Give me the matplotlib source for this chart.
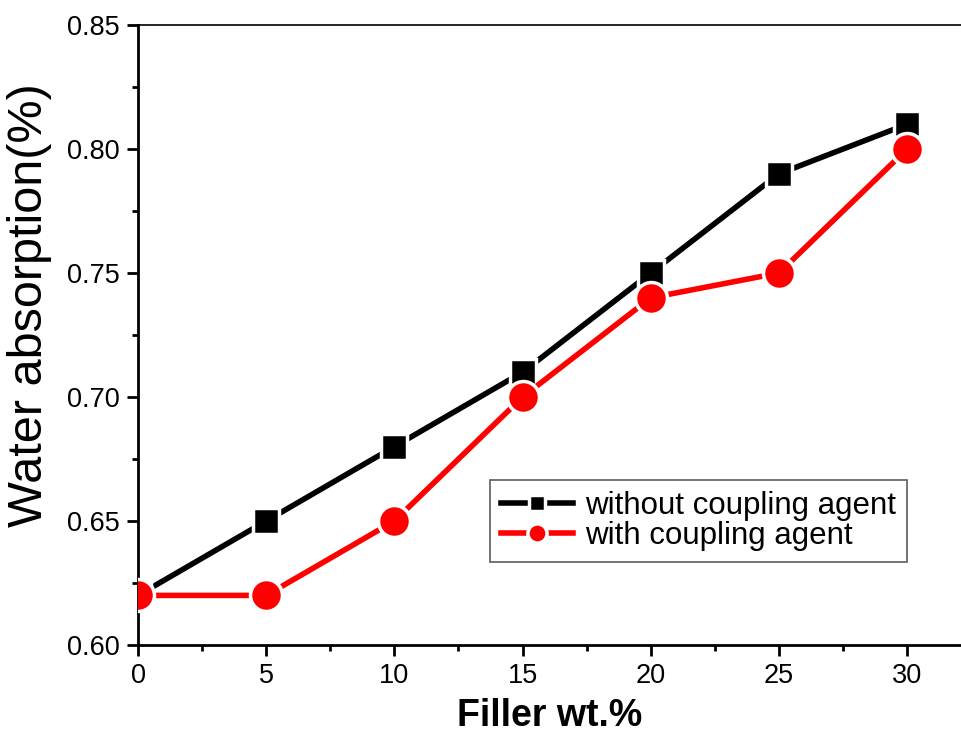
import matplotlib
matplotlib.use("Agg")
import matplotlib.pyplot as plt
from matplotlib.ticker import MultipleLocator

plt.rcParams['font.family'] = ['Liberation Sans', 'DejaVu Sans']

# data
filler = [0, 5, 10, 15, 20, 25, 30]
sans_agent = [0.62, 0.65, 0.68, 0.71, 0.75, 0.79, 0.81]
avec_agent = [0.62, 0.62, 0.65, 0.70, 0.74, 0.75, 0.80]

fig = plt.figure(figsize=(9.61, 7.35), dpi=100)
ax = fig.add_axes([138/961, 1 - 645/735, 1 - 138/961, (645 - 25)/735])

ax.plot(filler, sans_agent, color='black', linewidth=4, marker='s', markersize=19,
        markeredgecolor='white', markeredgewidth=2.5, markerfacecolor='black',
        label='without coupling agent', zorder=3)
ax.plot(filler, avec_agent, color='red', linewidth=4, marker='o', markersize=23,
        markeredgecolor='white', markeredgewidth=2.5, markerfacecolor='red',
        label='with coupling agent', zorder=4)

ax.set_xlim(0, 32.1)
ax.set_ylim(0.60, 0.85)
ax.xaxis.set_major_locator(MultipleLocator(5))
ax.xaxis.set_minor_locator(MultipleLocator(2.5))
ax.yaxis.set_major_locator(MultipleLocator(0.05))
ax.yaxis.set_minor_locator(MultipleLocator(0.025))
ax.yaxis.set_major_formatter(matplotlib.ticker.FormatStrFormatter('%.2f'))

ax.spines['right'].set_visible(False)
ax.spines['left'].set_linewidth(2)
ax.spines['bottom'].set_linewidth(2)
ax.spines['top'].set_linewidth(1.2)
ax.tick_params(which='major', direction='out', length=8, width=2, labelsize=19.5, pad=5)
ax.tick_params(which='minor', direction='out', length=4, width=2)
ax.tick_params(top=False, right=False, which='both')

# titoli degli assi
ax.set_xlabel('Filler wt.%', fontsize=27, fontweight='bold')
ax.xaxis.set_label_coords(0.5, -(716 - 645)/620, transform=ax.transAxes)
ax.xaxis.label.set_va('center')
ax.set_ylabel('Water absorption(%)', fontsize=35)
ax.yaxis.set_label_coords(-(138 - 30)/823, (645 - 305)/620, transform=ax.transAxes)
ax.yaxis.label.set_va('center')

# legenda
leg = ax.legend(loc='lower left', bbox_to_anchor=((490 - 138)/823, (645 - 562)/620),
                fontsize=22.5, frameon=True, fancybox=False, edgecolor='#333333',
                handlelength=2.3, borderpad=0.35, labelspacing=0.0, handletextpad=0.4,
                markerscale=0.6, borderaxespad=0)
leg.get_frame().set_linewidth(1.2)

fig.savefig('out.png', dpi=100)
